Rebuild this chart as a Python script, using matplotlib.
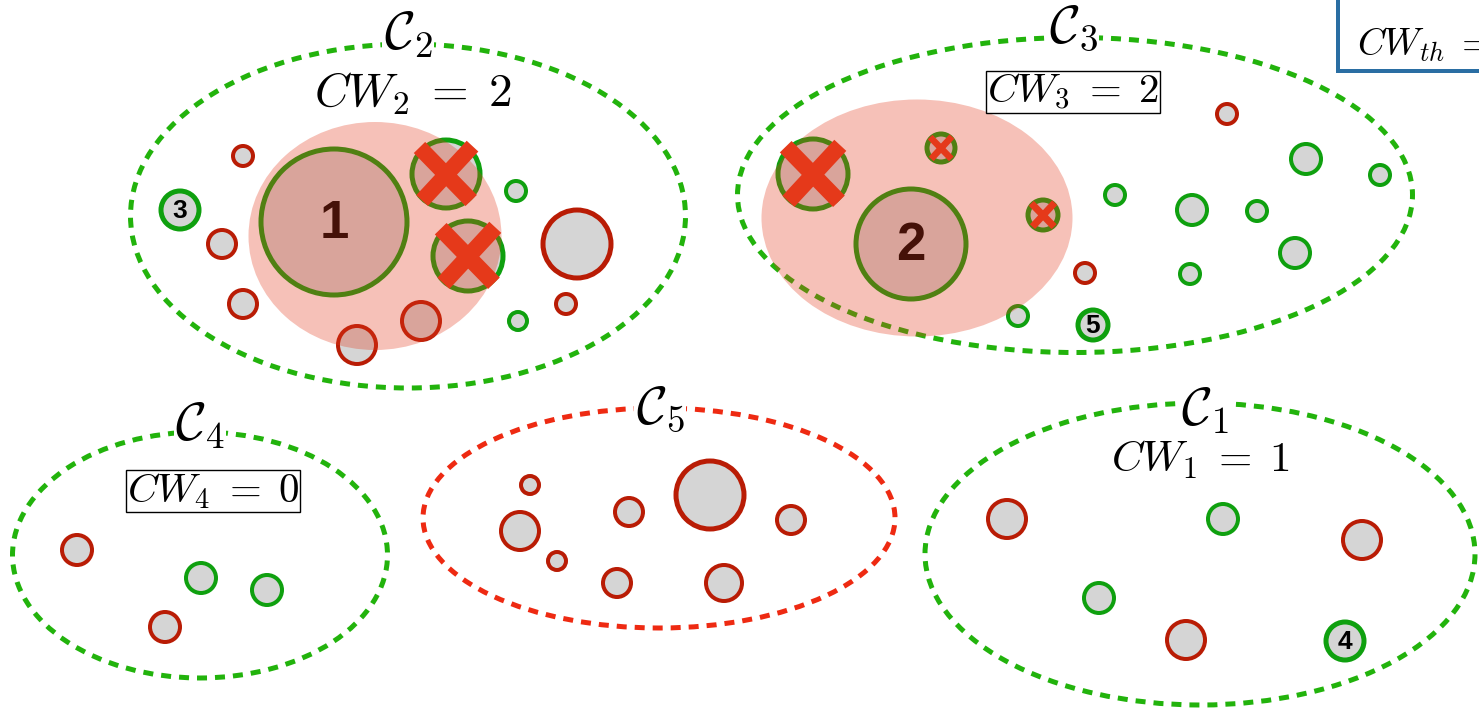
import matplotlib
matplotlib.use("Agg")
import matplotlib.pyplot as plt
from matplotlib.patches import Circle, Ellipse, Rectangle

plt.rcParams['mathtext.fontset'] = 'cm'

# clusters (dashed outlines): centre, width, height, colour, name
cl_names = [r'$\mathcal{C}_1$', r'$\mathcal{C}_2$', r'$\mathcal{C}_3$', r'$\mathcal{C}_4$', r'$\mathcal{C}_5$']
cl_x = [1200, 408, 1075, 200, 659]
cl_y = [554, 216, 195, 555, 518]
cl_w = [550, 555, 675, 375, 472]
cl_h = [302, 344, 315, 246, 220]
cl_col = ['#22b30c', '#22b30c', '#22b30c', '#22b30c', '#ee2a12']
cl_lab_x = [1205, 408, 1073, 200, 660]
cl_lab_y = [410, 34, 27, 425, 408]

# contention window texts
cw_text = [r'$CW_1 \;=\; 1$', r'$CW_2 \;=\; 2$', r'$CW_3 \;=\; 2$', r'$CW_4 \;=\; 0$']
cw_x = [1200, 413, 1073, 213]
cw_y = [460, 94, 92, 491]
cw_size = [31, 34, 29.5, 29.5]
cw_boxed = [False, False, True, True]

# ordinary nodes
red_x = [243, 222, 243, 357, 421, 577, 566,
         1227, 1085,
         77, 165,
         530, 520, 557, 629, 710, 791, 617, 724,
         1007, 1362, 1186]
red_y = [156, 244, 304, 345, 321, 244, 304,
         114, 273,
         550, 627,
         485, 531, 561, 512, 495, 520, 583, 583,
         519, 540, 640]
red_r = [10, 14, 14, 19, 19, 34, 10,
         10, 10,
         15, 15,
         9, 19, 9, 14, 34, 14, 14, 18,
         19, 19, 19]

green_x = [516, 518,
           1306, 1380, 1115, 1192, 1257, 1295, 1190, 1018,
           201, 267,
           1223, 1099]
green_y = [191, 321,
           159, 175, 195, 210, 211, 253, 274, 316,
           578, 590,
           519, 598]
green_r = [10, 9,
           15, 10, 10, 15, 10, 15, 10, 10,
           15, 15,
           15, 15]

# cluster heads and the nodes they block
head_x = [334, 911]
head_y = [222, 244]
head_r = [73, 55]
head_labels = ['1', '2']

crossed_x = [446, 468, 813, 941, 1043]
crossed_y = [174, 256, 174, 148, 215]
crossed_r = [34, 35, 35, 14, 15]

# numbered nodes
num_x = [180, 1345, 1093]
num_y = [210, 641, 325]
num_r = [19, 19, 15]
num_labels = ['3', '4', '5']

# shaded coverage areas of the heads
cov_x = [375, 917]
cov_y = [236, 218]
cov_w = [253, 311]
cov_h = [228, 237]

RED = '#b91c05'
GREEN = '#0fa00f'
FILL = '#d5d5d5'
XCOL = '#e5391a'
px = 0.72  # points per pixel at dpi 100

fig = plt.figure(figsize=(14.79, 7.12), dpi=100)
ax = fig.add_axes([0, 0, 1, 1])
ax.set_xlim(0, 1479)
ax.set_ylim(712, 0)
ax.axis('off')

for x, y, w, h, c in zip(cl_x, cl_y, cl_w, cl_h, cl_col):
    ax.add_patch(Ellipse((x, y), w, h, fill=False, ec=c, lw=5 * px,
                         ls=(0, (2.0, 1.6)), zorder=1))

for name, x, y in zip(cl_names, cl_lab_x, cl_lab_y):
    ax.text(x, y, name, fontsize=38, ha='center', va='center', zorder=5,
            bbox=dict(fc='white', ec='none', pad=1))

for t, x, y, s, b in zip(cw_text, cw_x, cw_y, cw_size, cw_boxed):
    if b:
        ax.text(x, y, t, fontsize=s, ha='center', va='center', zorder=5,
                bbox=dict(fc='white', ec='black', lw=1, pad=0.5))
    else:
        ax.text(x, y, t, fontsize=s, ha='center', va='center', zorder=5)

for x, y, r in zip(red_x, red_y, red_r):
    lw = 4 if r < 30 else 5
    ax.add_patch(Circle((x, y), r, fc=FILL, ec=RED, lw=lw * px, zorder=2))

for x, y, r in zip(green_x, green_y, green_r):
    ax.add_patch(Circle((x, y), r, fc=FILL, ec=GREEN, lw=4 * px, zorder=2))

for x, y, r, lab in zip(head_x, head_y, head_r, head_labels):
    ax.add_patch(Circle((x, y), r, fc=FILL, ec=GREEN, lw=5 * px, zorder=2))
    ax.text(x, y + 2, lab, fontsize=38, ha='center', va='center', color='black',
            family='Liberation Sans', fontweight='bold', zorder=2.5)

for x, y, r in zip(crossed_x, crossed_y, crossed_r):
    ax.add_patch(Circle((x, y), r, fc=FILL, ec=GREEN, lw=5 * px, zorder=2))
    d = 0.78 * r
    ax.plot([x - d, x + d * 0.95], [y - d, y + d], color=XCOL, lw=0.36 * r * px * 1.3,
            solid_capstyle='butt', zorder=4)
    ax.plot([x + d, x - d * 0.9], [y - d * 1.05, y + d], color=XCOL, lw=0.36 * r * px * 1.3,
            solid_capstyle='butt', zorder=4)

for x, y, r, lab in zip(num_x, num_y, num_r, num_labels):
    ax.add_patch(Circle((x, y), r, fc=FILL, ec=GREEN, lw=5 * px, zorder=2))
    ax.text(x, y + 1, lab, fontsize=19, ha='center', va='center', color='black',
            family='Liberation Sans', fontweight='bold', zorder=5)

for x, y, w, h in zip(cov_x, cov_y, cov_w, cov_h):
    ax.add_patch(Ellipse((x, y), w, h, fc='#e2391a', ec='none', alpha=0.31, zorder=3))

# threshold box in the top-right corner (cut by the figure edge)
ax.add_patch(Rectangle((1338, -30), 200, 101, fc='white', ec='#2a6ea3', lw=4 * px, zorder=6))
ax.text(1357, 45, r'$CW_{th} \;=$', fontsize=27, ha='left', va='center', zorder=7, clip_on=True)

fig.savefig('out.png', dpi=100)
